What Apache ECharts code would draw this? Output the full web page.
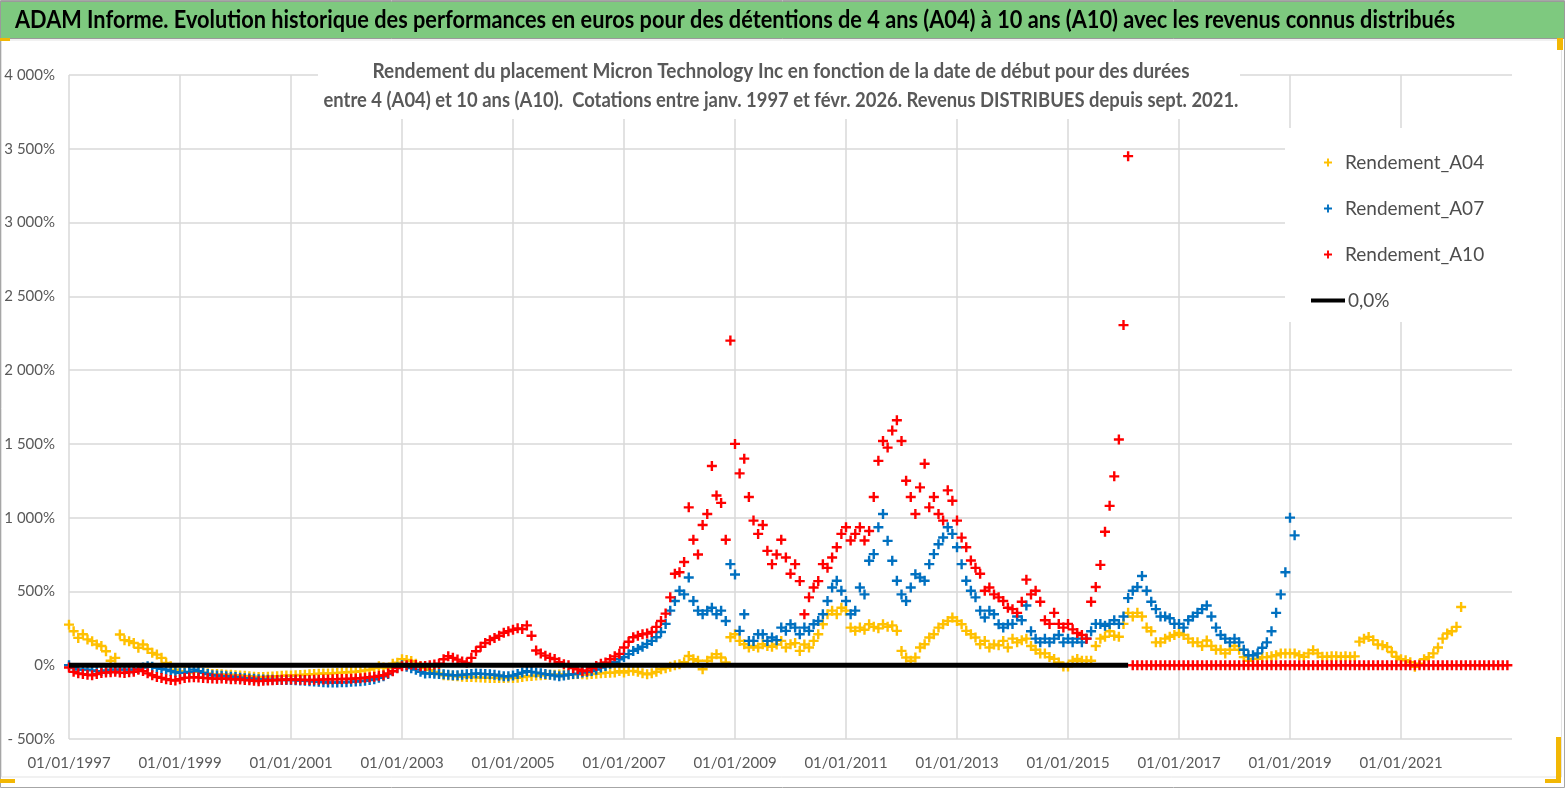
<!DOCTYPE html>
<html><head><meta charset="utf-8">
<script src="https://cdn.jsdelivr.net/npm/echarts@6/dist/echarts.min.js"></script>
<style>html,body{margin:0;padding:0;background:#fff}#c{width:1567px;height:790px}</style>
</head><body><div id="c"></div>
<script>
// ---- data (monthly readings, % return) ----
const startA04 = '1997-01';
const A04 = [
275,230,185,210,175,163,140,130,95,30,50,208,
170,163,151,118,140,110,84,72,50,16,-7,-30,
-40,-45,-50,-45,-40,-50,-55,-60,-60,-62,-65,-65,
-68,-70,-72,-75,-78,-80,-80,-78,-76,-74,-72,-70,
-70,-68,-66,-64,-62,-60,-58,-56,-56,-55,-52,-50,
-48,-46,-44,-40,-35,-30,-20,-7,-15,-19,10,17,
41,35,29,10,-7,-20,-32,-45,-55,-68,-70,-72,
-75,-78,-80,-80,-82,-84,-85,-86,-86,-87,-87,-85,
-87,-85,-80,-75,-73,-70,-68,-66,-65,-64,-63,-63,
-63,-62,-60,-62,-63,-60,-58,-55,-52,-51,-50,-40,
-50,-40,-38,-45,-55,-61,-55,-45,-27,-20,-10,0,
7,20,63,40,30,-27,30,52,75,52,18,190,
210,165,142,120,130,120,142,130,125,140,165,120,
142,150,97,140,120,165,210,278,345,370,345,390,
370,255,233,255,240,278,260,250,278,260,270,233,
97,52,30,52,120,142,188,210,255,278,300,323,
300,278,233,210,188,142,165,120,140,135,165,120,
180,155,170,180,130,105,80,80,55,43,18,-8,
-8,30,43,30,30,30,130,180,193,230,200,193,
280,355,330,355,330,255,230,155,155,180,193,205,
218,205,180,155,155,130,168,130,105,105,80,105,
130,105,55,30,43,43,55,55,60,68,80,80,
80,80,68,57,80,102,80,57,57,60,60,57,
60,57,60,160,180,192,170,140,136,124,90,57,
40,34,20,-10,10,40,55,80,120,180,215,230,
260,395];

const startA07 = '1997-01';
const A07 = [
0,-20,-30,-30,-30,-35,-40,-40,-35,-30,-30,-30,
-30,-30,-30,-25,-15,-7,-10,-18,-25,-30,-40,-48,
-52,-52,-45,-30,-40,-52,-60,-68,-70,-72,-75,-78,
-80,-85,-88,-90,-92,-95,-97,-98,-98,-100,-100,-100,
-100,-102,-104,-106,-108,-110,-112,-115,-117,-117,-117,-115,
-115,-112,-110,-108,-105,-100,-95,-85,-75,-60,-40,-15,
0,-10,-20,-30,-45,-56,-55,-58,-60,-62,-65,-68,
-68,-65,-62,-60,-56,-58,-60,-62,-65,-70,-75,-75,
-70,-60,-50,-40,-45,-50,-55,-60,-65,-70,-75,-70,
-65,-60,-58,-50,-45,-40,-30,-15,-5,10,20,40,
55,75,97,110,125,145,165,190,225,280,370,435,
505,480,595,435,370,345,370,390,345,370,300,685,
615,233,345,165,165,210,210,165,188,170,255,233,
278,255,210,255,233,278,300,345,435,527,572,505,
435,345,370,527,480,708,753,935,1025,843,708,572,
480,435,527,617,595,572,685,753,820,866,935,890,
800,685,572,505,460,370,323,370,345,278,255,278,
280,330,305,405,230,180,155,180,155,180,205,155,
180,155,180,155,180,230,280,280,268,280,305,280,
330,455,505,530,605,505,430,380,330,330,318,280,
280,255,305,330,355,380,405,330,255,205,180,155,
180,155,105,68,68,80,118,155,230,355,480,630,
1000,880];

const startA10 = '1997-01';
const A10 = [
-15,-45,-55,-60,-65,-68,-60,-52,-50,-48,-45,-50,
-52,-48,-45,-30,-40,-55,-68,-80,-86,-95,-100,-104,
-95,-86,-84,-81,-83,-86,-88,-90,-92,-90,-92,-95,
-95,-97,-100,-102,-105,-108,-106,-104,-102,-100,-98,-97,
-97,-96,-98,-100,-100,-99,-98,-97,-96,-95,-94,-93,
-93,-92,-90,-88,-85,-81,-78,-72,-68,-55,-41,-20,
-7,0,5,2,-7,-5,0,5,10,40,61,50,
38,25,16,50,95,125,151,170,185,200,220,230,
240,250,245,270,200,100,80,65,50,42,20,7,
0,-20,-28,-40,-35,-20,-5,10,19,40,60,77,
120,159,190,200,210,215,225,260,300,350,460,620,
630,700,1070,850,750,950,1025,1350,1150,1100,850,2200,
1500,1300,1400,1140,980,890,950,775,685,750,850,730,
620,685,570,345,460,527,570,685,660,730,800,890,
935,845,890,935,845,910,1140,1385,1520,1475,1590,1660,
1520,1250,1140,1025,1205,1365,1070,1140,1025,980,1185,1115,
980,865,800,710,660,620,505,527,480,460,435,390,
380,355,430,580,480,505,430,305,280,355,280,255,
280,243,218,205,180,430,530,680,905,1080,1280,1530,
2305,3450,
// no 10-year history yet: shown at 0
0,0,0,0,0,0,0,0,0,0,
0,0,0,0,0,0,0,0,0,0,0,0,
0,0,0,0,0,0,0,0,0,0,0,0,
0,0,0,0,0,0,0,0,0,0,0,0,
0,0,0,0,0,0,0,0,0,0,0,0,
0,0,0,0,0,0,0,0,0,0,0,0,
0,0,0,0,0,0,0,0,0,0,0,0];

const zeroDates = ['1997-01','2016-02'];
const zeroValues = [0, 0];

const seriesNames = ['Rendement_A04','Rendement_A07','Rendement_A10','0,0%'];
const xTickYears = [1997,1999,2001,2003,2005,2007,2009,2011,2013,2015,2017,2019,2021];

const mainTitle = 'ADAM Informe. Evolution historique des performances en euros pour des détentions de 4 ans (A04) à 10 ans (A10) avec les revenus connus distribués';
const subTitle1 = 'Rendement du placement Micron Technology Inc en fonction de la date de début pour des durées';
const subTitle2 = 'entre 4 (A04) et 10 ans (A10).  Cotations entre janv. 1997 et févr. 2026. Revenus DISTRIBUES depuis sept. 2021.';

// ---- helpers ----
function toYear(s){ const p = s.split('-'); return +p[0] + (+p[1]-1)/12; }
function monthly(start, vals){ const y0 = toYear(start); return vals.map((v,i)=>[y0 + i/12, v]); }
function fmtPct(v){
  const a = Math.abs(v).toString().replace(/\B(?=(\d{3})+(?!\d))/g,' ');
  return (v<0 ? '- ' : '') + a + '%';
}
const mctx = document.createElement('canvas').getContext('2d');
function fitScale(text, font, target){ mctx.font = font; return target / mctx.measureText(text).width; }

const PLUS = 'path://M3.8,0H6.2V3.8H10V6.2H6.2V10H3.8V6.2H0V3.8H3.8Z';
const FONT = "Lato, 'Open Sans', sans-serif";
const TFONT = "bold 25px " + FONT;
const SFONT = "bold 20px " + FONT;

const chart = echarts.init(document.getElementById('c'), null, {renderer:'canvas'});
chart.setOption({
  animation:false,
  backgroundColor:'#fff',
  grid:{left:69, right:55, top:75, bottom:51, containLabel:false},
  xAxis:{
    type:'value', min:1997, max:2023, interval:2,
    axisLine:{show:false}, axisTick:{show:false},
    axisLabel:{color:'#595959', fontFamily:FONT, fontSize:15, margin:17,
      showMaxLabel:false,
      formatter:v => xTickYears.indexOf(v) >= 0 ? '01/01/' + v : ''},
    splitLine:{show:true, showMaxLine:false, lineStyle:{color:'#d9d9d9', width:1.5}}
  },
  yAxis:{
    type:'value', min:-500, max:4000, interval:500,
    axisLine:{show:false}, axisTick:{show:false},
    axisLabel:{color:'#595959', fontFamily:FONT, fontSize:15, margin:14, formatter:fmtPct},
    splitLine:{lineStyle:{color:'#d9d9d9', width:1.5}}
  },
  legend:[
    {data:seriesNames.slice(0,3), orient:'vertical', left:1319, top:148, itemGap:27,
     itemWidth:8, itemHeight:8, icon:PLUS,
     textStyle:{color:'#4d4d4d', fontFamily:FONT, fontSize:19, padding:[0,0,0,8]}},
    {data:[{name:seriesNames[3], icon:'rect'}], left:1306, top:286,
     itemWidth:34, itemHeight:4,
     textStyle:{color:'#4d4d4d', fontFamily:FONT, fontSize:19, padding:[0,0,0,-2]}}
  ],
  graphic:[
    {type:'rect', z:1, shape:{x:0.5, y:1.5, width:1564, height:37}, style:{fill:'#7EC97F', stroke:'#9a9a9a', lineWidth:1}},
    {type:'rect', z:0, shape:{x:0.5, y:0.5, width:1564, height:787}, style:{fill:'none', stroke:'#a6a6a6', lineWidth:1}},
    {type:'rect', z:0, shape:{x:1.5, y:40, width:1560, height:737}, style:{fill:'none', stroke:'#e3e3e3', lineWidth:1}},
    {type:'rect', z:1, shape:{x:0, y:38, width:10, height:3}, style:{fill:'#F2B705'}},
    {type:'rect', z:1, shape:{x:1557, y:38, width:6, height:12}, style:{fill:'#F2B705'}},
    {type:'rect', z:1, shape:{x:1556, y:737, width:5, height:46}, style:{fill:'#F2B705'}},
    {type:'rect', z:1, shape:{x:1545, y:779, width:16, height:4}, style:{fill:'#F2B705'}},
    {type:'rect', z:1, shape:{x:0, y:779, width:15, height:4}, style:{fill:'#F2B705'}},
    {type:'rect', z:1, shape:{x:318, y:55, width:922, height:64}, style:{fill:'#fff'}},
    {type:'rect', z:1, shape:{x:1285, y:128, width:276, height:194}, style:{fill:'#fff'}},
    {type:'text', z:5, x:15, y:7, scaleX:fitScale(mainTitle, TFONT, 1440),
     style:{text:mainTitle, font:TFONT, fill:'#000'}},
    {type:'text', z:5, x:781, y:62, scaleX:fitScale(subTitle1, SFONT, 817),
     style:{text:subTitle1, font:SFONT, fill:'#595959', align:'center'}},
    {type:'text', z:5, x:781, y:91, scaleX:fitScale(subTitle2, SFONT, 915),
     style:{text:subTitle2, font:SFONT, fill:'#595959', align:'center'}}
  ],
  series:[
    {name:seriesNames[0], type:'scatter', symbol:PLUS, symbolSize:10, z:2,
     itemStyle:{color:'#FFC000', opacity:1}, data:monthly(startA04, A04)},
    {name:seriesNames[1], type:'scatter', symbol:PLUS, symbolSize:10, z:3,
     itemStyle:{color:'#0070C0', opacity:1}, data:monthly(startA07, A07)},
    {name:seriesNames[2], type:'scatter', symbol:PLUS, symbolSize:10, z:4,
     itemStyle:{color:'#FF0000', opacity:1}, data:monthly(startA10, A10)},
    {name:seriesNames[3], type:'line', symbol:'none', z:5, color:'#000',
     lineStyle:{color:'#000', width:5},
     data: zeroDates.map((d,i)=>[toYear(d), zeroValues[i]])}
  ]
});
</script></body></html>
